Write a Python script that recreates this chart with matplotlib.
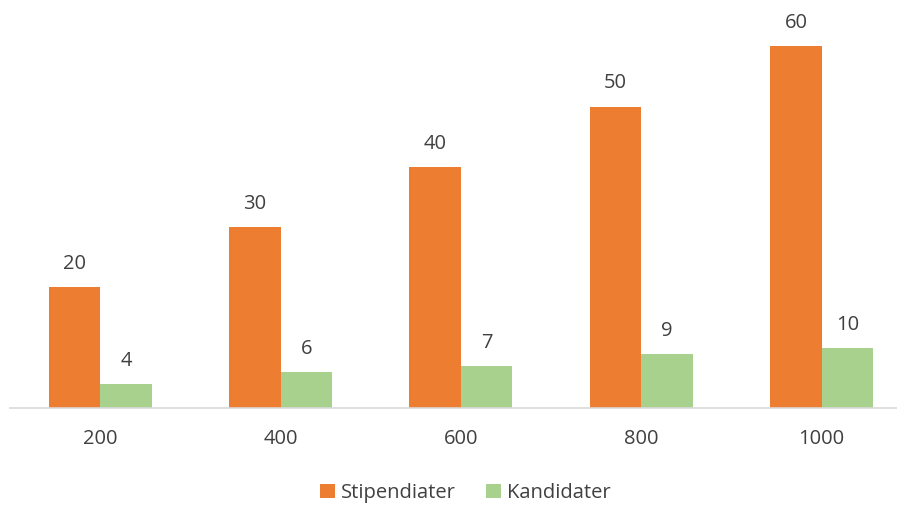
import matplotlib
matplotlib.use("Agg")
import matplotlib.pyplot as plt
import numpy as np

categories = ["200", "400", "600", "800", "1000"]
stipendiater = [20, 30, 40, 50, 60]
kandidater = [4, 6, 7, 9, 10]

plt.rcParams['font.family'] = ['Open Sans', 'DejaVu Sans']
W, H = 897, 505
fig = plt.figure(figsize=(W/100, H/100), dpi=100)
ax = fig.add_axes([10/W, (H-408)/H, (W-10)/W, (408-10)/H])

x = np.arange(len(categories))
bw = 0.285
orange = "#ED7D31"
green = "#A9D18E"
tc = "#404040"
fs = 14.5
b1 = ax.bar(x - bw/2, stipendiater, bw, color=orange, label="Stipendiater")
b2 = ax.bar(x + bw/2, kandidater, bw, color=green, label="Kandidater")
for bars in (b1, b2):
    for r in bars:
        ax.annotate(f"{int(r.get_height())}", (r.get_x() + r.get_width()/2, r.get_height()),
                    xytext=(0, 9.5), textcoords="offset points", ha="center", va="bottom",
                    fontsize=fs, color=tc)

ax.set_xlim(-0.5, (W - 100) / 180.4)
ax.set_ylim(0, (408 - 10) / 6.03)
ax.set_xticks(x)
ax.set_xticklabels(categories, fontsize=fs, color=tc)
ax.tick_params(axis='x', length=0, pad=15)
ax.set_yticks([])
for s in ["top", "right", "left"]:
    ax.spines[s].set_visible(False)
ax.spines["bottom"].set_color("#D9D9D9")
ax.spines["bottom"].set_linewidth(1.2)

fig.legend(handles=[b1, b2], loc="center", bbox_to_anchor=(465/W, 1 - 493/H), ncol=2,
           frameon=False, fontsize=fs, labelcolor=tc, handlelength=0.75, handleheight=0.75,
           columnspacing=1.5, handletextpad=0.3)
fig.savefig("out.png", dpi=100)
